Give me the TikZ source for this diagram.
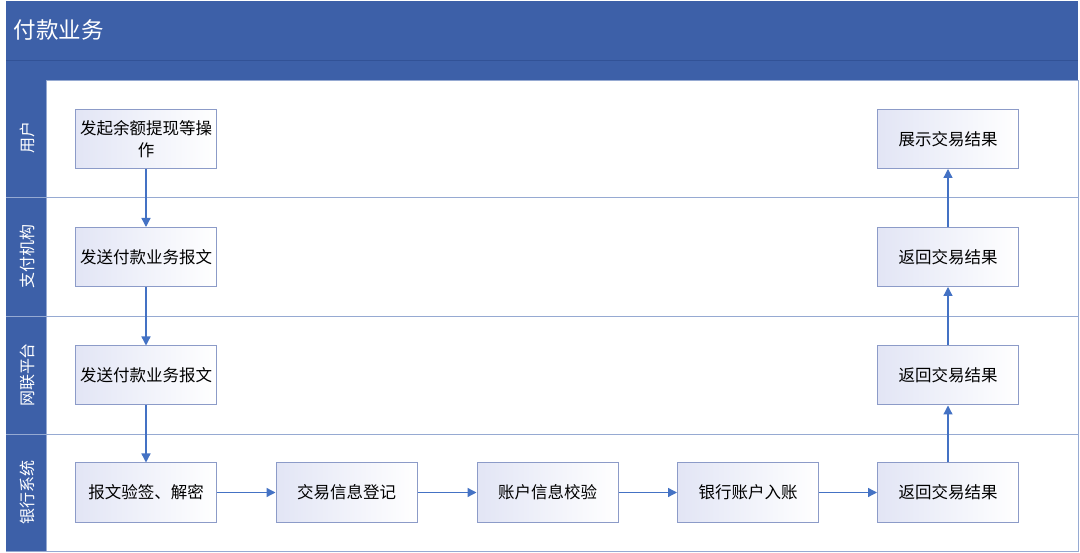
\documentclass[tikz,border=0pt]{standalone}
\usepackage{fontspec}
\setmainfont{Noto Sans CJK SC}
\usetikzlibrary{arrows.meta}
\definecolor{hdr}{RGB}{61,96,168}
\definecolor{hdrline}{RGB}{50,82,150}
\definecolor{lanel}{RGB}{150,170,210}
\definecolor{boxb}{RGB}{140,155,200}
\definecolor{boxf}{RGB}{226,229,245}
\definecolor{arr}{RGB}{68,114,196}
\tikzset{
  stepbox/.style={draw=boxb, line width=1pt, left color=boxf, right color=white, minimum width=141pt, minimum height=59pt, align=center, font=\fontsize{16.5}{22}\selectfont, text width=134pt, inner sep=2pt},
  flow/.style={draw=arr, line width=1.3pt, -{Triangle[length=9pt,width=9pt]}},
  lanetxt/.style={text=white, rotate=90, font=\fontsize{16}{18}\selectfont}
}
\begin{document}
\begin{tikzpicture}[x=1pt,y=-1pt]
\useasboundingbox (0,0) rectangle (1080,553);
\fill[white] (0,0) rectangle (1080,553);
% header
\fill[hdr] (6,1) rectangle (1078,80);
\draw[hdrline, line width=0.8pt] (6,60) -- (1078,60);
\node[anchor=west, text=white, font=\fontsize{22.5}{26}\selectfont] (title) at (10,30) {付款业务};
% left column
\fill[hdr] (6,80) rectangle (46,551);
% lane frame
\draw[lanel, line width=0.9pt] (46,80) rectangle (1078,551);
\draw[lanel, line width=0.9pt] (6,197) -- (1078,197);
\draw[lanel, line width=0.9pt] (6,316) -- (1078,316);
\draw[lanel, line width=0.9pt] (6,434) -- (1078,434);
\draw[lanel, line width=0.9pt] (6,551) -- (1078,551);
% lane labels
\node[lanetxt] (l1) at (27,138) {用户};
\node[lanetxt] (l2) at (27,257) {支付机构};
\node[lanetxt] (l3) at (27,375) {网联平台};
\node[lanetxt] (l4) at (27,492) {银行系统};
% boxes
\node[stepbox] (a1) at (146,139) {发起余额提现等操\\作};
\node[stepbox] (a2) at (146,257) {发送付款业务报文};
\node[stepbox] (a3) at (146,375.5) {发送付款业务报文};
\node[stepbox] (b1) at (146,492.5) {报文验签、解密};
\node[stepbox] (b2) at (346.5,492.5) {交易信息登记};
\node[stepbox] (b3) at (547.5,492.5) {账户信息校验};
\node[stepbox] (b4) at (748,492.5) {银行账户入账};
\node[stepbox] (b5) at (948,492.5) {返回交易结果};
\node[stepbox] (c3) at (948,375.5) {返回交易结果};
\node[stepbox] (c2) at (948,257) {返回交易结果};
\node[stepbox] (c1) at (948,139) {展示交易结果};
% arrows
\draw[flow] (a1) -- (a2);
\draw[flow] (a2) -- (a3);
\draw[flow] (a3) -- (b1);
\draw[flow] (b1) -- (b2);
\draw[flow] (b2) -- (b3);
\draw[flow] (b3) -- (b4);
\draw[flow] (b4) -- (b5);
\draw[flow] (b5) -- (c3);
\draw[flow] (c3) -- (c2);
\draw[flow] (c2) -- (c1);
\end{tikzpicture}
\end{document}
